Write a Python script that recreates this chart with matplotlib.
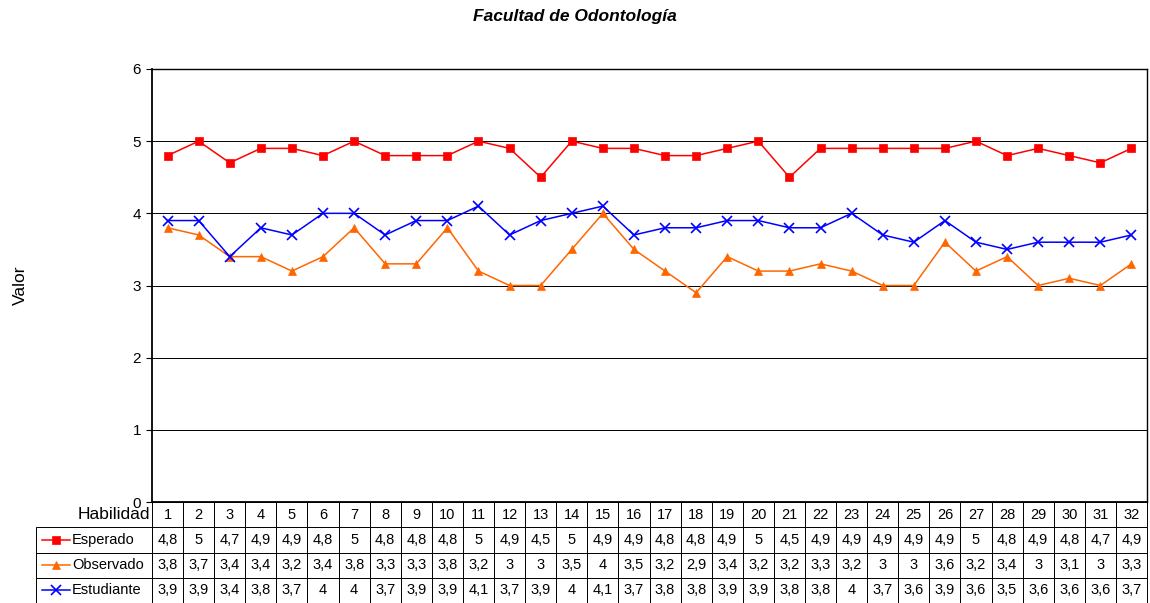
import matplotlib
matplotlib.use("Agg")
import matplotlib.pyplot as plt

plt.rcParams['font.family'] = ['Liberation Sans', 'DejaVu Sans']

habilidad = list(range(1, 33))
esperado = [4.8, 5, 4.7, 4.9, 4.9, 4.8, 5, 4.8, 4.8, 4.8, 5, 4.9, 4.5, 5, 4.9, 4.9,
            4.8, 4.8, 4.9, 5, 4.5, 4.9, 4.9, 4.9, 4.9, 4.9, 5, 4.8, 4.9, 4.8, 4.7, 4.9]
observado = [3.8, 3.7, 3.4, 3.4, 3.2, 3.4, 3.8, 3.3, 3.3, 3.8, 3.2, 3, 3, 3.5, 4, 3.5,
             3.2, 2.9, 3.4, 3.2, 3.2, 3.3, 3.2, 3, 3, 3.6, 3.2, 3.4, 3, 3.1, 3, 3.3]
estudiante = [3.9, 3.9, 3.4, 3.8, 3.7, 4, 4, 3.7, 3.9, 3.9, 4.1, 3.7, 3.9, 4, 4.1, 3.7,
              3.8, 3.8, 3.9, 3.9, 3.8, 3.8, 4, 3.7, 3.6, 3.9, 3.6, 3.5, 3.6, 3.6, 3.6, 3.7]
series_names = ["Esperado", "Observado", "Estudiante"]
title = "Facultad de Odontología"

W, H = 1150, 603
fig = plt.figure(figsize=(W / 100, H / 100), dpi=100)
ax = fig.add_axes([152 / W, 1 - 502 / H, 995 / W, 433 / H])

colors = ["#FF0000", "#FF6600", "#0000FF"]
markers = ["s", "^", "x"]
msizes = [5.5, 6, 6.5]
data = [esperado, observado, estudiante]
for vals, c, m, ms in zip(data, colors, markers, msizes):
    ax.plot(habilidad, vals, color=c, marker=m, markersize=ms, linewidth=1.1,
            markeredgewidth=1.2 if m == "x" else 0.5, zorder=3)

ax.set_xlim(0.5, 32.5)
ax.set_ylim(0, 6)
ax.set_yticks(range(0, 7))
ax.set_yticklabels([str(v) for v in range(0, 7)], fontsize=11)
ax.set_xticks([])
ax.yaxis.grid(True, color="black", linewidth=0.7)
ax.set_axisbelow(True)
ax.spines["top"].set_linewidth(1.0)
ax.spines["right"].set_linewidth(1.0)
ax.spines["left"].set_linewidth(1.3)
ax.spines["bottom"].set_linewidth(1.3)
ax.tick_params(axis="y", length=4, width=0.8, pad=4)

fig.text(20 / W, 1 - 285 / H, "Valor", rotation=90, ha="center", va="center",
         fontsize=12.5)
fig.text(575 / W, 1 - 17 / H, title, ha="center", va="center",
         fontsize=12.5, fontweight="bold", fontstyle="italic")

# Data table
label_w = 116 / 995
ncols = len(habilidad)
rows = [["Habilidad"] + [str(h) for h in habilidad]]
fmt = lambda v: (("%g" % v).replace(".", ","))
for name, vals in zip(series_names, data):
    rows.append([name] + [fmt(v) for v in vals])
col_widths = [label_w] + [1 / ncols] * ncols
tab = ax.table(cellText=rows, colWidths=col_widths, cellLoc="center",
               bbox=[-label_w, -101 / 433, 1 + label_w, 101 / 433])
tab.auto_set_font_size(False)
for (r, c), cell in tab.get_celld().items():
    cell.set_linewidth(0.7)
    cell.set_edgecolor("black")
    cell.get_text().set_fontsize(10.5)
    if c == 0:
        if r == 0:
            cell.visible_edges = ""
            cell.get_text().set_ha("right")
            cell.PAD = 0.02
            cell._loc = "right"
            cell.get_text().set_fontsize(12.5)
        else:
            cell._loc = "left"
            cell.PAD = 0.31
            cell.get_text().set_ha("left")
            cell.get_text().set_fontsize(10.5)

# legend keys inside row-label cells
row_h = 101 / 433 / 4
for i, (c, m, ms) in enumerate(zip(colors, markers, msizes)):
    yc = -row_h * (i + 1.5)
    x0 = -label_w + 6 / 995
    x1 = -label_w + 34 / 995
    ax.plot([x0, x1], [yc, yc], transform=ax.transAxes, color=c, linewidth=1.1,
            clip_on=False)
    ax.plot([(x0 + x1) / 2], [yc], transform=ax.transAxes, color=c, marker=m,
            markersize=ms, markeredgewidth=1.2 if m == "x" else 0.5, clip_on=False)

fig.savefig("out.png", dpi=100)
